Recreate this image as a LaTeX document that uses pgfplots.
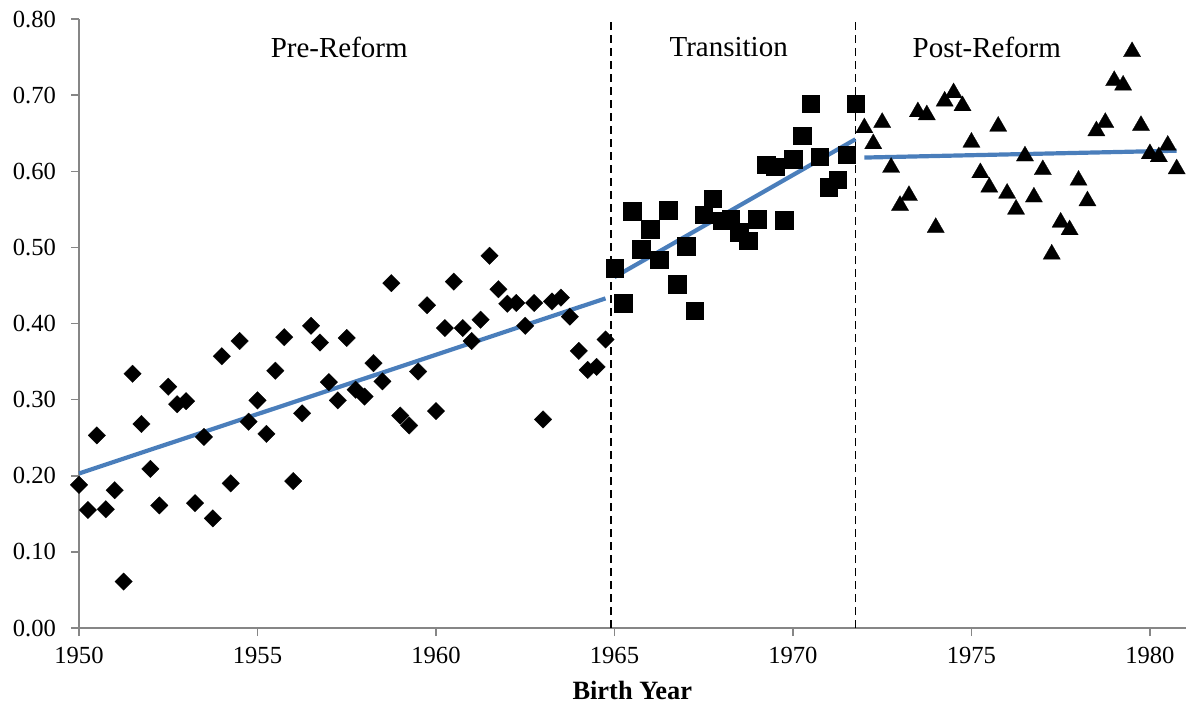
\documentclass[border=0pt]{standalone}
\usepackage{fontspec}
\setmainfont{Liberation Serif}
\usepackage{pgfplots}
\pgfplotsset{compat=1.18}
\definecolor{trendblue}{HTML}{4A7EBB}
\definecolor{axgray}{HTML}{868686}
\begin{document}
\begin{tikzpicture}
\useasboundingbox (0,0) rectangle (594pt,356.5pt);
\begin{axis}[
  at={(39.5pt,42.5pt)}, anchor=south west,
  scale only axis, width=553.3pt, height=304.5pt,
  xmin=1950, xmax=1981, ymin=0, ymax=0.8,
  clip=false,
  axis x line*=bottom, axis y line*=left,
  axis line style={-, draw=axgray, line width=0.75pt},
  every tick/.style={draw=axgray, line width=0.75pt},
  tick align=outside, major tick length=4pt,
  xtick={1950,1955,...,1980},
  ytick={0,0.1,...,0.8},
  xticklabel style={/pgf/number format/1000 sep={}, font=\fontsize{12.3}{14}\selectfont, yshift=-2pt},
  yticklabel style={/pgf/number format/.cd, fixed, fixed zerofill, precision=2, /tikz/.cd, font=\fontsize{12.3}{14}\selectfont, xshift=-4pt},
  /pgf/number format/assume math mode=true,
  xlabel={\textbf{Birth Year}},
  xlabel style={font=\fontsize{13.2}{15}\selectfont, yshift=-2pt},
]
% dashed period boundaries
\addplot[black, dashed, line width=0.75pt, dash pattern=on 4pt off 2.5pt] coordinates {(1964.9,0) (1964.9,0.8)};
\addplot[black, dashed, line width=0.75pt, dash pattern=on 4pt off 2.5pt] coordinates {(1971.75,0) (1971.75,0.8)};
% pre-reform
\addplot[only marks, mark=square*, mark size=3.1pt, mark options={fill=black, draw=black, line width=0.1pt, rotate=45}] coordinates {
(1950.00,0.188) (1950.25,0.155) (1950.50,0.253) (1950.75,0.156) (1951.00,0.181) (1951.25,0.061)
(1951.50,0.334) (1951.75,0.268) (1952.00,0.209) (1952.25,0.161) (1952.50,0.317) (1952.75,0.294)
(1953.00,0.298) (1953.25,0.164) (1953.50,0.251) (1953.75,0.144) (1954.00,0.357) (1954.25,0.190)
(1954.50,0.377) (1954.75,0.271) (1955.00,0.299) (1955.25,0.255) (1955.50,0.338) (1955.75,0.382)
(1956.00,0.193) (1956.25,0.282) (1956.50,0.397) (1956.75,0.375) (1957.00,0.323) (1957.25,0.299)
(1957.50,0.381) (1957.75,0.313) (1958.00,0.304) (1958.25,0.348) (1958.50,0.324) (1958.75,0.453)
(1959.00,0.279) (1959.25,0.266) (1959.50,0.337) (1959.75,0.424) (1960.00,0.285) (1960.25,0.394)
(1960.50,0.455) (1960.75,0.394) (1961.00,0.377) (1961.25,0.405) (1961.50,0.489) (1961.75,0.445)
(1962.00,0.426) (1962.25,0.427) (1962.50,0.397) (1962.75,0.427) (1963.00,0.274) (1963.25,0.429)
(1963.50,0.434) (1963.75,0.409) (1964.00,0.364) (1964.25,0.339) (1964.50,0.343) (1964.75,0.379)
};
% transition
\addplot[only marks, mark=square*, mark size=4.4pt, mark options={fill=black, draw=black, line width=0.1pt}] coordinates {
(1965.00,0.473) (1965.25,0.427) (1965.50,0.548) (1965.75,0.498) (1966.00,0.524) (1966.25,0.484)
(1966.50,0.549) (1966.75,0.452) (1967.00,0.502) (1967.25,0.417) (1967.50,0.543) (1967.75,0.564)
(1968.00,0.535) (1968.25,0.537) (1968.50,0.520) (1968.75,0.509) (1969.00,0.537) (1969.25,0.609)
(1969.50,0.606) (1969.75,0.536) (1970.00,0.616) (1970.25,0.647) (1970.50,0.689) (1970.75,0.619)
(1971.00,0.579) (1971.25,0.589) (1971.50,0.622) (1971.75,0.689)
};
% post-reform
\addplot[only marks, mark=triangle*, mark size=5pt, mark options={fill=black, draw=black, line width=0.1pt}] coordinates {
(1972.00,0.657) (1972.25,0.636) (1972.50,0.664) (1972.75,0.605) (1973.00,0.555) (1973.25,0.568)
(1973.50,0.678) (1973.75,0.674) (1974.00,0.526) (1974.25,0.692) (1974.50,0.703) (1974.75,0.686)
(1975.00,0.638) (1975.25,0.598) (1975.50,0.579) (1975.75,0.659) (1976.00,0.571) (1976.25,0.550)
(1976.50,0.620) (1976.75,0.566) (1977.00,0.602) (1977.25,0.491) (1977.50,0.533) (1977.75,0.523)
(1978.00,0.588) (1978.25,0.561) (1978.50,0.653) (1978.75,0.664) (1979.00,0.719) (1979.25,0.713)
(1979.50,0.757) (1979.75,0.660) (1980.00,0.623) (1980.25,0.619) (1980.50,0.634) (1980.75,0.603)
};
% trend lines
\addplot[trendblue, line width=2.1pt] coordinates {(1950,0.203) (1964.75,0.433)};
\addplot[trendblue, line width=2.1pt] coordinates {(1965,0.461) (1971.75,0.642)};
\addplot[trendblue, line width=2.1pt] coordinates {(1972,0.618) (1980.75,0.627)};
% period labels
\node[font=\fontsize{14.5}{17}\selectfont] at (axis cs:1957.29,0.763) {Pre-Reform};
\node[font=\fontsize{14.5}{17}\selectfont] at (axis cs:1968.2,0.763) {Transition};
\node[font=\fontsize{14.5}{17}\selectfont] at (axis cs:1975.43,0.763) {Post-Reform};
\end{axis}
\end{tikzpicture}
\end{document}
